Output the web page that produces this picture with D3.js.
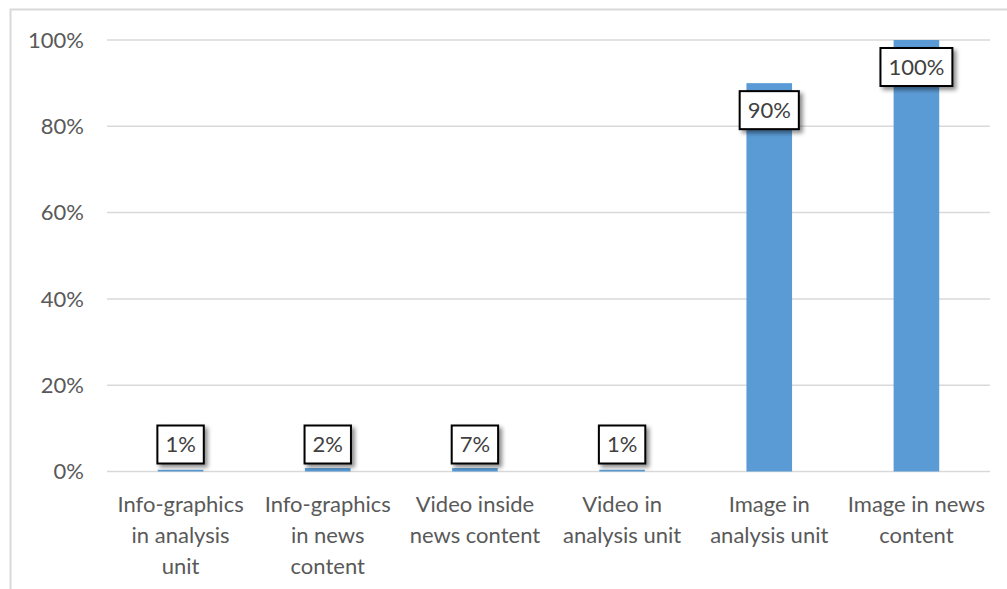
<!DOCTYPE html>
<html>
<head>
<meta charset="utf-8">
<script src="https://cdn.jsdelivr.net/npm/d3@7"></script>
<style>
  body { margin: 0; background: #fff; }
  svg { display: block; }
  text { font-family: Lato, "Open Sans", sans-serif; }
</style>
</head>
<body>
<div id="chart"></div>
<script>
// data
var categories = [
  ["Info-graphics", "in analysis", "unit"],
  ["Info-graphics", "in news", "content"],
  ["Video inside", "news content"],
  ["Video in", "analysis unit"],
  ["Image in", "analysis unit"],
  ["Image in news", "content"]
];
// bar heights as drawn in the picture (the small bars are drawn thinner than their labels)
var values = [0.4, 0.8, 0.8, 0.4, 90, 100];
var dataLabels = ["1%", "2%", "7%", "1%", "90%", "100%"];
var yTicks = [0, 20, 40, 60, 80, 100];

var W = 1007, H = 589;
var svg = d3.select("#chart").append("svg").attr("width", W).attr("height", H);

// drop shadow for label boxes
var defs = svg.append("defs");
var f = defs.append("filter").attr("id", "shadow").attr("x", "-30%").attr("y", "-30%").attr("width", "170%").attr("height", "170%");
f.append("feDropShadow").attr("dx", 3).attr("dy", 3).attr("stdDeviation", 2).attr("flood-color", "#000").attr("flood-opacity", 0.45);

// chart border
svg.append("rect").attr("x", 10.5).attr("y", 9.5).attr("width", 1010).attr("height", 600)
  .attr("fill", "none").attr("stroke", "#d9d9d9").attr("stroke-width", 2);

var x = d3.scaleBand().domain(d3.range(categories.length)).range([107, 990]).paddingInner(0.69).paddingOuter(0.345);
var y = d3.scaleLinear().domain([0, 100]).range([471.5, 40]);

// gridlines
svg.append("g").selectAll("line").data(yTicks).enter().append("line")
  .attr("x1", 107).attr("x2", 990)
  .attr("y1", d => y(d)).attr("y2", d => y(d))
  .attr("stroke", "#d9d9d9").attr("stroke-width", 1.5);

// y labels
svg.append("g").selectAll("text").data(yTicks).enter().append("text")
  .attr("x", 84).attr("y", d => y(d)).attr("dy", "0.35em")
  .attr("text-anchor", "end").attr("font-size", 22).attr("fill", "#595959")
  .text(d => d + "%");

// bars
svg.append("g").selectAll("rect").data(values).enter().append("rect")
  .attr("x", (d, i) => x(i)).attr("width", x.bandwidth())
  .attr("y", d => y(d)).attr("height", d => y(0) - y(d))
  .attr("fill", "#5b9bd5");

// x labels
var xl = svg.append("g").selectAll("text").data(categories).enter().append("text")
  .attr("text-anchor", "middle").attr("font-size", 22).attr("fill", "#595959")
  .attr("x", (d, i) => x(i) + x.bandwidth() / 2);
xl.selectAll("tspan").data(d => d).enter().append("tspan")
  .attr("x", function () { return d3.select(this.parentNode).attr("x"); })
  .attr("y", (d, j) => 512 + j * 31)
  .text(d => d);

// data labels in boxes
var lab = svg.append("g").selectAll("g").data(values).enter().append("g")
  .attr("transform", function (d, i) {
    var cx = x(i) + x.bandwidth() / 2;
    var top = y(d);
    var cy = (y(0) - top) > 60 ? top + 27 : y(0) - 27;
    return "translate(" + cx + "," + cy + ")";
  });
lab.each(function (d, i) {
  var g = d3.select(this);
  var r = g.append("rect");
  var t = g.append("text").attr("text-anchor", "middle").attr("dy", "0.36em")
    .attr("font-size", 22).attr("fill", "#404040").text(dataLabels[i]);
  var w = t.node().getComputedTextLength() + 16;
  r.attr("x", -w / 2).attr("y", -19).attr("width", w).attr("height", 38)
    .attr("fill", "#fff").attr("stroke", "#000").attr("stroke-width", 2)
    .attr("filter", "url(#shadow)");
});
</script>
</body>
</html>
